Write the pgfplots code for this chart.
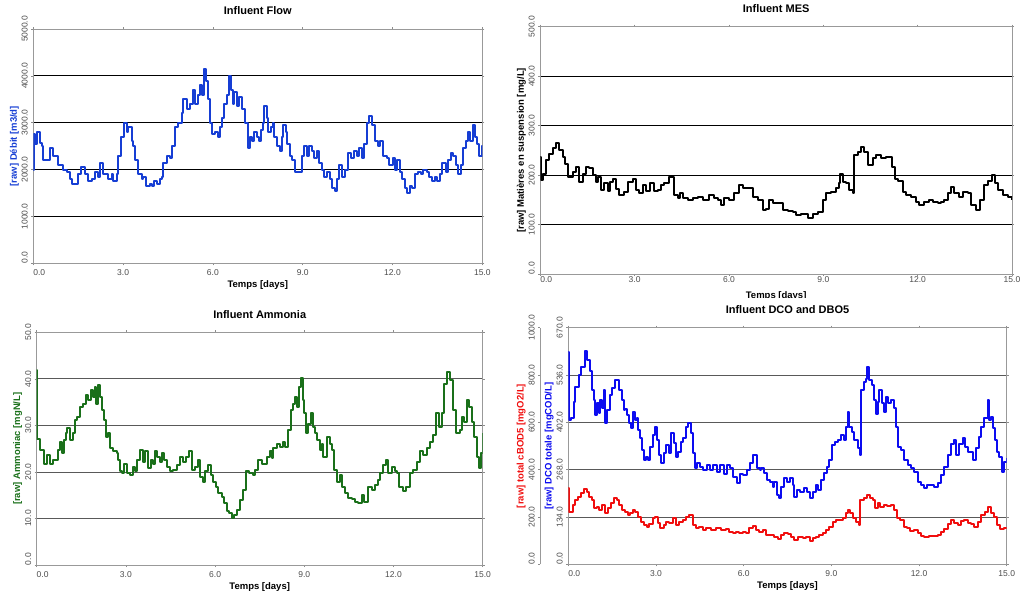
\documentclass[border=0pt]{standalone}
\usepackage{fontspec}
\setmainfont{Liberation Sans}
\usepackage{pgfplots}
\pgfplotsset{compat=1.18}
\definecolor{flowblue}{RGB}{22,62,212}
\definecolor{ammgreen}{RGB}{26,112,26}
\definecolor{dcoblue}{RGB}{12,12,240}
\definecolor{bodred}{RGB}{240,14,14}
\pgfplotsset{
  panel/.style={
    scale only axis,
    xmin=0, xmax=15,
    xtick={0,3,6,9,12,15},
    xticklabels={{\rlap{0.0}},3.0,6.0,9.0,12.0,15.0},
    axis line style={black!40, line width=0.9pt},
    ymajorgrids,
    major grid style={black, line width=0.75pt},
    tick align=outside,
    major tick length=2pt,
    tick style={black!45, line width=0.6pt},
    tick label style={font=\fontsize{8.5}{10}\selectfont, text=black!70},
    yticklabel style={rotate=90, anchor=south},
    xticklabel style={anchor=center, yshift=-7.5pt},
    title style={font=\bfseries\fontsize{11}{13}\selectfont, at={(0.5,1)}, anchor=center, yshift=12pt},
    xlabel style={font=\bfseries\fontsize{9.5}{11}\selectfont, at={(axis description cs:0.5,0)}, anchor=center, yshift=-22pt},
    ylabel style={font=\bfseries\fontsize{9.5}{11}\selectfont, at={([xshift=-19pt]axis description cs:0,0.5)}, anchor=center},
    xlabel={Temps [days]},
    every axis plot/.append style={line width=2pt, mark=none, const plot, line join=round},
  }
}
\begin{document}
\begin{tikzpicture}[x=1pt,y=1pt]
\useasboundingbox (0pt,0pt) rectangle (1022pt,-591pt);

% ---------------- Influent Flow
\begin{axis}[panel, at={(33.3pt,-263.3pt)}, anchor=south west, width=449pt, height=234.3pt,
  ymin=0, ymax=5000, ytick={0,1000,2000,3000,4000,5000},
  yticklabels={{\rlap{0.0}},1000.0,2000.0,3000.0,4000.0,5000.0},
  title={Influent Flow}, ylabel={[raw] Débit [m3/d]}, ylabel style={text=flowblue}]
\addplot[flowblue] coordinates {
(0,2000) (0.01,2750) (0.06,2550) (0.11,2800) (0.22,2560) (0.28,2500) (0.33,2200) (0.45,2200) (0.56,2450) (0.67,2300) (0.84,2100) (1.0,2000) (1.11,1950) (1.22,1800) (1.28,1700) (1.45,1700) (1.50,1900) (1.61,2050) (1.73,1900) (1.84,1750) (1.95,1800) (2.06,1950) (2.17,1850) (2.23,2150) (2.34,1900) (2.51,1800) (2.62,1900) (2.67,1750) (2.78,1900) (2.84,2300) (2.92,2700) (3.03,3000) (3.12,2800) (3.17,2900) (3.29,2600) (3.34,2500) (3.40,2200) (3.51,1900) (3.62,1800) (3.67,1850) (3.75,1650) (3.90,1700) (3.95,1650) (4.03,1750) (4.12,1700) (4.23,1800) (4.29,1850) (4.34,2150) (4.45,2300) (4.57,2250) (4.65,2500) (4.73,2900) (4.84,3000) (4.96,3200) (5.01,3500) (5.12,3300) (5.23,3400) (5.32,3700) (5.40,3400) (5.51,3600) (5.57,3800) (5.62,3600) (5.71,4150) (5.77,3900) (5.85,3500) (5.90,3000) (5.96,2750) (6.07,2800) (6.18,2700) (6.24,2900) (6.29,3100) (6.37,3400) (6.46,3600) (6.54,4000) (6.59,3700) (6.66,3400) (6.71,3650) (6.79,3350) (6.87,3550) (6.96,3300) (7.07,3000) (7.16,2450) (7.24,2700) (7.32,2600) (7.37,2800) (7.46,2700) (7.55,2600) (7.61,2850) (7.66,3000) (7.72,3350) (7.80,3100) (7.85,2800) (7.93,2900) (8.00,3000) (8.05,2700) (8.13,2500) (8.24,2400) (8.30,2700) (8.35,2950) (8.43,2800) (8.49,2550) (8.57,2300) (8.65,2200) (8.74,1950) (8.85,1950) (8.96,2300) (9.04,2500) (9.13,2300) (9.21,2500) (9.30,2400) (9.38,2250) (9.47,2400) (9.55,2150) (9.63,2000) (9.71,1850) (9.80,1950) (9.91,1800) (9.99,1600) (10.08,1550) (10.13,1800) (10.22,2100) (10.32,1850) (10.41,2000) (10.52,2350) (10.63,2250) (10.71,2400) (10.80,2300) (10.89,2450) (10.97,2250) (11.05,2550) (11.14,3000) (11.21,3150) (11.30,2950) (11.41,2600) (11.53,2500) (11.58,2600) (11.67,2300) (11.80,2250) (11.89,2100) (12.00,2250) (12.08,2000) (12.16,2200) (12.25,1950) (12.33,1800) (12.42,1600) (12.47,1500) (12.58,1650) (12.66,1600) (12.75,1900) (12.86,1950) (12.94,1900) (13.03,2000) (13.14,1950) (13.23,1850) (13.33,1750) (13.42,1850) (13.50,1750) (13.59,1900) (13.67,2150) (13.79,1950) (13.86,2200) (13.94,2350) (14.03,2300) (14.12,2100) (14.20,1900) (14.28,2100) (14.37,2450) (14.44,2600) (14.51,2800) (14.59,2600) (14.68,2950) (14.75,2700) (14.83,2550) (14.90,2300) (14.98,2500) (15,2500)
};
\end{axis}

% ---------------- Influent MES
\begin{axis}[panel, at={(540.3pt,-274pt)}, anchor=south west, width=471.7pt, height=247.3pt,
  ymin=0, ymax=500, ytick={0,100,200,300,400,500},
  yticklabels={{\rlap{0.0}},100.0,200.0,300.0,400.0,500.0},
  xticklabel style={yshift=3.5pt},
  title={Influent MES}, ylabel={[raw] Matières en suspension [mg/L]}]
\addplot[black] coordinates {
(0,237) (0.01,190) (0.07,203) (0.18,230) (0.29,243) (0.39,254) (0.50,265) (0.60,250) (0.71,237) (0.78,223) (0.89,197) (1.03,207) (1.13,217) (1.24,186) (1.35,203) (1.45,217) (1.56,214) (1.66,200) (1.77,186) (1.84,197) (1.93,170) (2.04,184) (2.14,167) (2.23,186) (2.30,192) (2.41,172) (2.51,159) (2.67,166) (2.80,186) (2.94,192) (3.04,170) (3.15,163) (3.25,180) (3.36,167) (3.50,184) (3.60,167) (3.73,170) (3.84,180) (3.94,184) (4.10,197) (4.26,159) (4.37,153) (4.45,163) (4.53,153) (4.69,150) (4.84,153) (5.00,156) (5.16,150) (5.37,159) (5.53,153) (5.64,150) (5.75,140) (5.85,153) (6.01,150) (6.15,163) (6.33,180) (6.44,173) (6.60,173) (6.75,156) (6.91,150) (7.07,129) (7.18,132) (7.28,150) (7.39,143) (7.55,143) (7.71,129) (7.87,128) (8.03,126) (8.13,119) (8.29,122) (8.50,113) (8.66,122) (8.82,126) (8.98,150) (9.09,163) (9.24,166) (9.40,173) (9.49,184) (9.54,203) (9.62,186) (9.72,184) (9.83,170) (9.95,163) (9.99,240) (10.09,247) (10.20,256) (10.30,247) (10.43,220) (10.57,234) (10.68,240) (10.83,234) (10.99,237) (11.10,237) (11.18,217) (11.28,192) (11.39,189) (11.52,166) (11.63,159) (11.79,156) (11.95,146) (12.05,140) (12.21,146) (12.37,150) (12.48,146) (12.64,143) (12.74,146) (12.85,150) (12.95,163) (13.06,176) (13.17,163) (13.33,156) (13.43,166) (13.59,163) (13.70,140) (13.86,129) (13.97,150) (14.10,180) (14.23,189) (14.36,200) (14.46,184) (14.57,170) (14.70,159) (14.86,156) (15.0,150)
};
\end{axis}
\fill[white] (535pt,-297.5pt) rectangle (1022pt,-306pt);

% ---------------- Influent Ammonia
\begin{axis}[panel, at={(36.7pt,-565pt)}, anchor=south west, width=446pt, height=232.7pt,
  ymin=0, ymax=50, ytick={0,10,20,30,40,50},
  yticklabels={{\rlap{0.0}},10.0,20.0,30.0,40.0,50.0},
  major grid style={black!65, line width=0.8pt},
  title={Influent Ammonia}, ylabel={[raw] Ammoniac [mgN/L]}, ylabel style={text=ammgreen}]
\addplot[ammgreen] coordinates {
(0,42) (0.02,27) (0.11,24.7) (0.17,24.7) (0.26,21.8) (0.34,23.6) (0.45,21.8) (0.56,22.6) (0.65,22.6) (0.73,24.7) (0.78,26.5) (0.84,24) (0.92,26.9) (0.99,28.3) (1.03,29.4) (1.12,26.9) (1.21,28.3) (1.29,31.2) (1.37,31.9) (1.46,34) (1.55,34.7) (1.66,36.5) (1.74,35.5) (1.82,37.6) (1.88,36.2) (1.96,38.3) (1.99,34.7) (2.07,38.7) (2.13,36.2) (2.19,33.3) (2.26,31.2) (2.33,27.6) (2.39,28.3) (2.47,25.1) (2.58,24.4) (2.69,24) (2.75,22.6) (2.80,20.1) (2.86,19.7) (2.94,21.8) (3.03,19.7) (3.14,19.3) (3.25,21.1) (3.31,20.1) (3.39,22.6) (3.48,24.7) (3.57,22.2) (3.64,24.4) (3.73,20.8) (3.83,22.6) (3.92,21.8) (3.98,24.4) (4.06,23.3) (4.13,22.2) (4.23,24) (4.29,22.6) (4.37,21.1) (4.48,20.1) (4.60,20.4) (4.71,21.5) (4.82,23.3) (4.91,22.2) (5.02,23.3) (5.13,24.4) (5.22,20.4) (5.33,21.1) (5.41,22.6) (5.49,19) (5.58,17.9) (5.66,20.1) (5.77,21.5) (5.85,19.3) (5.94,17.9) (6.03,16.8) (6.11,15.4) (6.22,14.7) (6.30,13.3) (6.39,11.5) (6.48,11.1) (6.56,10) (6.64,10.7) (6.73,11.8) (6.84,14) (6.93,16.1) (7.04,20.1) (7.15,19.7) (7.26,19.3) (7.34,20.4) (7.43,22.6) (7.57,21.8) (7.68,21.8) (7.76,23.3) (7.83,24.4) (7.90,22.9) (7.96,25.1) (8.07,26.1) (8.18,25.4) (8.27,26.5) (8.35,25.4) (8.46,29) (8.54,33.3) (8.63,34.7) (8.69,36.2) (8.74,34) (8.82,38.3) (8.89,40.1) (8.95,35.5) (8.99,32.6) (9.06,28.3) (9.14,30.4) (9.22,32.6) (9.28,29.7) (9.36,28.3) (9.44,26.9) (9.53,24.7) (9.59,26.1) (9.64,23.3) (9.75,27.6) (9.87,26.1) (9.92,24.7) (10.0,20.4) (10.09,17.9) (10.20,19.3) (10.28,16.8) (10.37,15.4) (10.48,14.3) (10.59,14.1) (10.71,13.6) (10.82,13.3) (10.93,15) (11.02,13.6) (11.15,16.8) (11.27,16.1) (11.38,17.2) (11.47,18.3) (11.55,19.7) (11.66,21.5) (11.74,22.6) (11.83,19.7) (11.94,21.1) (12.05,20.1) (12.13,19.7) (12.20,16.8) (12.33,15.8) (12.42,16.8) (12.56,19.7) (12.67,20.4) (12.78,22.2) (12.89,24.4) (13.0,23.6) (13.12,25.1) (13.23,26.5) (13.32,27.9) (13.43,32.6) (13.54,29.7) (13.62,32.6) (13.71,39) (13.81,41.5) (13.90,39.8) (13.99,33.3) (14.10,28.3) (14.22,29) (14.29,31.9) (14.37,30.8) (14.46,35.5) (14.55,34) (14.63,30.8) (14.71,27.6) (14.80,23.3) (14.88,20.8) (14.94,24) (15.0,28.3)
};
\end{axis}

% ---------------- Influent DCO and DBO5 : DCO axis (inner)
\begin{axis}[panel, at={(568.3pt,-564.3pt)}, anchor=south west, width=438.4pt, height=236.6pt,
  ymin=0, ymax=670, ytick={0,134,268,402,536,670},
  yticklabels={{\rlap{0.0}},134.0,268.0,402.0,536.0,670.0},
  major grid style={black!65, line width=0.8pt},
  title={Influent DCO and DBO5}, ylabel={[raw] DCO totale [mgCOD/L]}, ylabel style={text=dcoblue}]
\addplot[dcoblue] coordinates {
(0,602) (0.01,409) (0.10,415) (0.18,461) (0.24,503) (0.35,537) (0.43,560) (0.56,603) (0.64,579) (0.73,546) (0.81,494) (0.87,466) (0.92,423) (0.98,457) (1.04,429) (1.09,466) (1.15,443) (1.21,494) (1.26,400) (1.32,437) (1.41,480) (1.49,500) (1.61,522) (1.68,522) (1.75,494) (1.83,466) (1.89,437) (1.95,440) (2.0,423) (2.06,400) (2.14,385) (2.23,432) (2.29,409) (2.35,413) (2.40,380) (2.46,357) (2.52,324) (2.60,295) (2.67,303) (2.72,295) (2.80,333) (2.89,366) (2.97,390) (3.03,352) (3.11,309) (3.17,286) (3.26,314) (3.35,338) (3.43,314) (3.52,371) (3.60,343) (3.69,303) (3.77,319) (3.85,347) (3.94,357) (4.03,390) (4.11,400) (4.19,371) (4.26,314) (4.34,272) (4.42,286) (4.51,276) (4.62,267) (4.74,281) (4.85,267) (4.96,281) (5.08,262) (5.19,281) (5.31,257) (5.42,281) (5.53,272) (5.65,248) (5.76,229) (5.88,257) (5.99,252) (6.11,267) (6.22,286) (6.33,309) (6.44,272) (6.56,267) (6.59,272) (6.71,258) (6.80,239) (6.91,234) (6.99,220) (7.05,234) (7.13,196) (7.20,187) (7.28,220) (7.37,243) (7.48,234) (7.60,243) (7.68,225) (7.73,192) (7.82,211) (7.94,206) (8.05,215) (8.17,206) (8.27,187) (8.36,206) (8.47,225) (8.55,211) (8.65,239) (8.74,258) (8.85,276) (8.93,295) (9.01,338) (9.13,347) (9.24,352) (9.33,366) (9.42,352) (9.50,390) (9.56,432) (9.61,390) (9.70,376) (9.79,352) (9.90,328) (9.98,310) (10.0,494) (10.11,517) (10.19,526) (10.22,560) (10.30,522) (10.38,507) (10.47,465) (10.53,425) (10.59,460) (10.64,494) (10.72,456) (10.79,432) (10.87,475) (10.95,456) (11.04,465) (11.13,444) (11.21,390) (11.29,333) (11.38,324) (11.50,295) (11.61,281) (11.73,272) (11.84,262) (11.95,234) (12.07,225) (12.18,215) (12.27,225) (12.41,225) (12.52,220) (12.64,229) (12.75,253) (12.87,276) (13.00,310) (13.09,342) (13.19,352) (13.28,310) (13.38,342) (13.49,357) (13.57,333) (13.66,319) (13.84,295) (13.95,328) (14.04,361) (14.12,390) (14.24,413) (14.35,465) (14.41,408) (14.46,418) (14.54,385) (14.60,352) (14.67,319) (14.75,305) (14.83,262) (14.90,290) (15.0,300)
};
\end{axis}

% BOD5 data axis (same box, hidden)
\begin{axis}[scale only axis, at={(568.3pt,-564.3pt)}, anchor=south west, width=438.4pt, height=236.6pt,
  xmin=0, xmax=15, ymin=0, ymax=1000, hide axis]
\addplot[bodred, line width=2pt, mark=none, const plot, line join=round] coordinates {
(0,321) (0.01,223) (0.07,223) (0.15,251) (0.23,272) (0.32,286) (0.43,300) (0.55,317) (0.64,307) (0.72,286) (0.80,272) (0.89,237) (0.98,244) (1.06,230) (1.14,251) (1.25,215) (1.35,237) (1.46,258) (1.57,279) (1.67,272) (1.75,251) (1.83,230) (1.94,223) (2.03,208) (2.12,215) (2.20,230) (2.28,223) (2.37,201) (2.49,180) (2.58,166) (2.69,159) (2.77,170) (2.89,194) (2.97,201) (3.06,173) (3.15,152) (3.26,166) (3.34,180) (3.46,173) (3.57,194) (3.68,166) (3.80,180) (3.91,187) (4.03,201) (4.14,208) (4.25,166) (4.37,152) (4.48,159) (4.60,145) (4.71,152) (4.88,145) (5.05,152) (5.22,145) (5.40,148) (5.51,138) (5.62,131) (5.74,138) (5.85,131) (5.97,138) (6.08,131) (6.19,152) (6.31,162) (6.42,145) (6.54,138) (6.65,145) (6.76,124) (6.91,124) (7.05,114) (7.16,106) (7.28,124) (7.39,131) (7.51,127) (7.62,114) (7.73,103) (7.85,114) (8.02,110) (8.13,114) (8.27,100) (8.36,110) (8.47,117) (8.59,124) (8.70,131) (8.82,145) (8.93,159) (9.05,180) (9.16,187) (9.27,187) (9.39,194) (9.50,215) (9.56,230) (9.65,215) (9.73,194) (9.84,180) (9.96,166) (9.99,272) (10.11,282) (10.22,293) (10.33,279) (10.41,272) (10.49,237) (10.59,258) (10.68,244) (10.79,251) (10.90,248) (11.04,251) (11.16,230) (11.25,194) (11.36,187) (11.47,159) (11.59,152) (11.70,142) (11.84,145) (11.95,131) (12.07,120) (12.18,117) (12.35,120) (12.52,120) (12.64,124) (12.75,138) (12.87,148) (12.98,170) (13.09,187) (13.21,173) (13.32,166) (13.44,184) (13.55,187) (13.66,176) (13.78,170) (13.89,156) (14.01,180) (14.12,208) (14.24,223) (14.35,244) (14.46,218) (14.55,201) (14.67,166) (14.78,148) (14.90,155) (15.0,156)
};
\end{axis}

% outer BOD5 y axis
\begin{axis}[scale only axis, at={(540.3pt,-564.3pt)}, anchor=south west, width=1pt, height=236.6pt,
  xmin=0, xmax=1, ymin=0, ymax=1000,
  axis x line=none, axis y line*=left,
  axis line style={black!40, line width=0.9pt},
  tick align=outside, major tick length=2pt,
  tick style={black!45, line width=0.6pt},
  ytick={0,200,400,600,800,1000},
  yticklabels={{\rlap{0.0}},200.0,400.0,600.0,800.0,1000.0},
  tick label style={font=\fontsize{8.5}{10}\selectfont, text=black!70},
  yticklabel style={rotate=90, anchor=south},
  ylabel={[raw] total cBOD5 [mgO2/L]},
  ylabel style={font=\bfseries\fontsize{9.5}{11}\selectfont, text=bodred, at={([xshift=-19pt]axis description cs:0,0.5)}, anchor=center}]
\end{axis}
\end{tikzpicture}
\end{document}
